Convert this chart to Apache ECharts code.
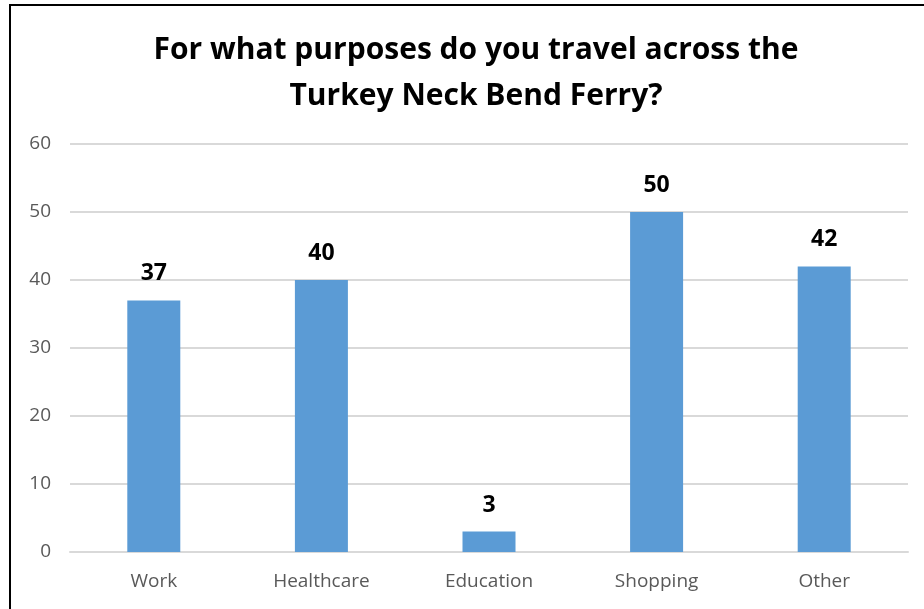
<!DOCTYPE html>
<html><head><meta charset="utf-8">
<script src="https://cdn.jsdelivr.net/npm/echarts@6/dist/echarts.min.js"></script>
<style>html,body{margin:0;padding:0;background:#fff;}#c{width:924px;height:609px;}</style>
</head><body><div id="c"></div>
<script>
const titleText = 'For what purposes do you travel across the\nTurkey Neck Bend Ferry?';
const categories = ['Work', 'Healthcare', 'Education', 'Shopping', 'Other'];
const values = [37, 40, 3, 50, 42];
const yTicks = [0, 10, 20, 30, 40, 50, 60];

const chart = echarts.init(document.getElementById('c'), null, {renderer: 'canvas'});
chart.setOption({
  animation: false,
  backgroundColor: '#fff',
  graphic: [{
    type: 'rect', shape: {x: 10, y: 5, width: 940, height: 640},
    style: {fill: 'none', stroke: '#000', lineWidth: 2}, silent: true, z: 100
  }],
  title: {
    text: titleText, left: 471, top: 22, textAlign: 'center',
    textStyle: {fontFamily: 'Open Sans', fontWeight: 'bold', fontSize: 30, lineHeight: 46, color: '#000'}
  },
  grid: {left: 70, right: 16, top: 144, bottom: 57, containLabel: false},
  xAxis: {
    type: 'category', data: categories,
    axisLine: {show: true, lineStyle: {color: '#D9D9D9', width: 2}},
    axisTick: {show: false},
    axisLabel: {color: '#595959', fontFamily: 'Open Sans', fontSize: 19, margin: 20}
  },
  yAxis: {
    type: 'value', min: yTicks[0], max: yTicks[yTicks.length - 1], interval: 10,
    axisLine: {show: false}, axisTick: {show: false},
    splitLine: {lineStyle: {color: '#D9D9D9', width: 2}},
    axisLabel: {color: '#595959', fontFamily: 'Open Sans', fontSize: 19, margin: 19}
  },
  series: [{
    type: 'bar', data: values, barWidth: 53,
    itemStyle: {color: '#5B9BD5'},
    label: {show: true, position: 'top', distance: 15, color: '#000', fontFamily: 'Open Sans', fontWeight: 'bold', fontSize: 23}
  }]
});
</script></body></html>
